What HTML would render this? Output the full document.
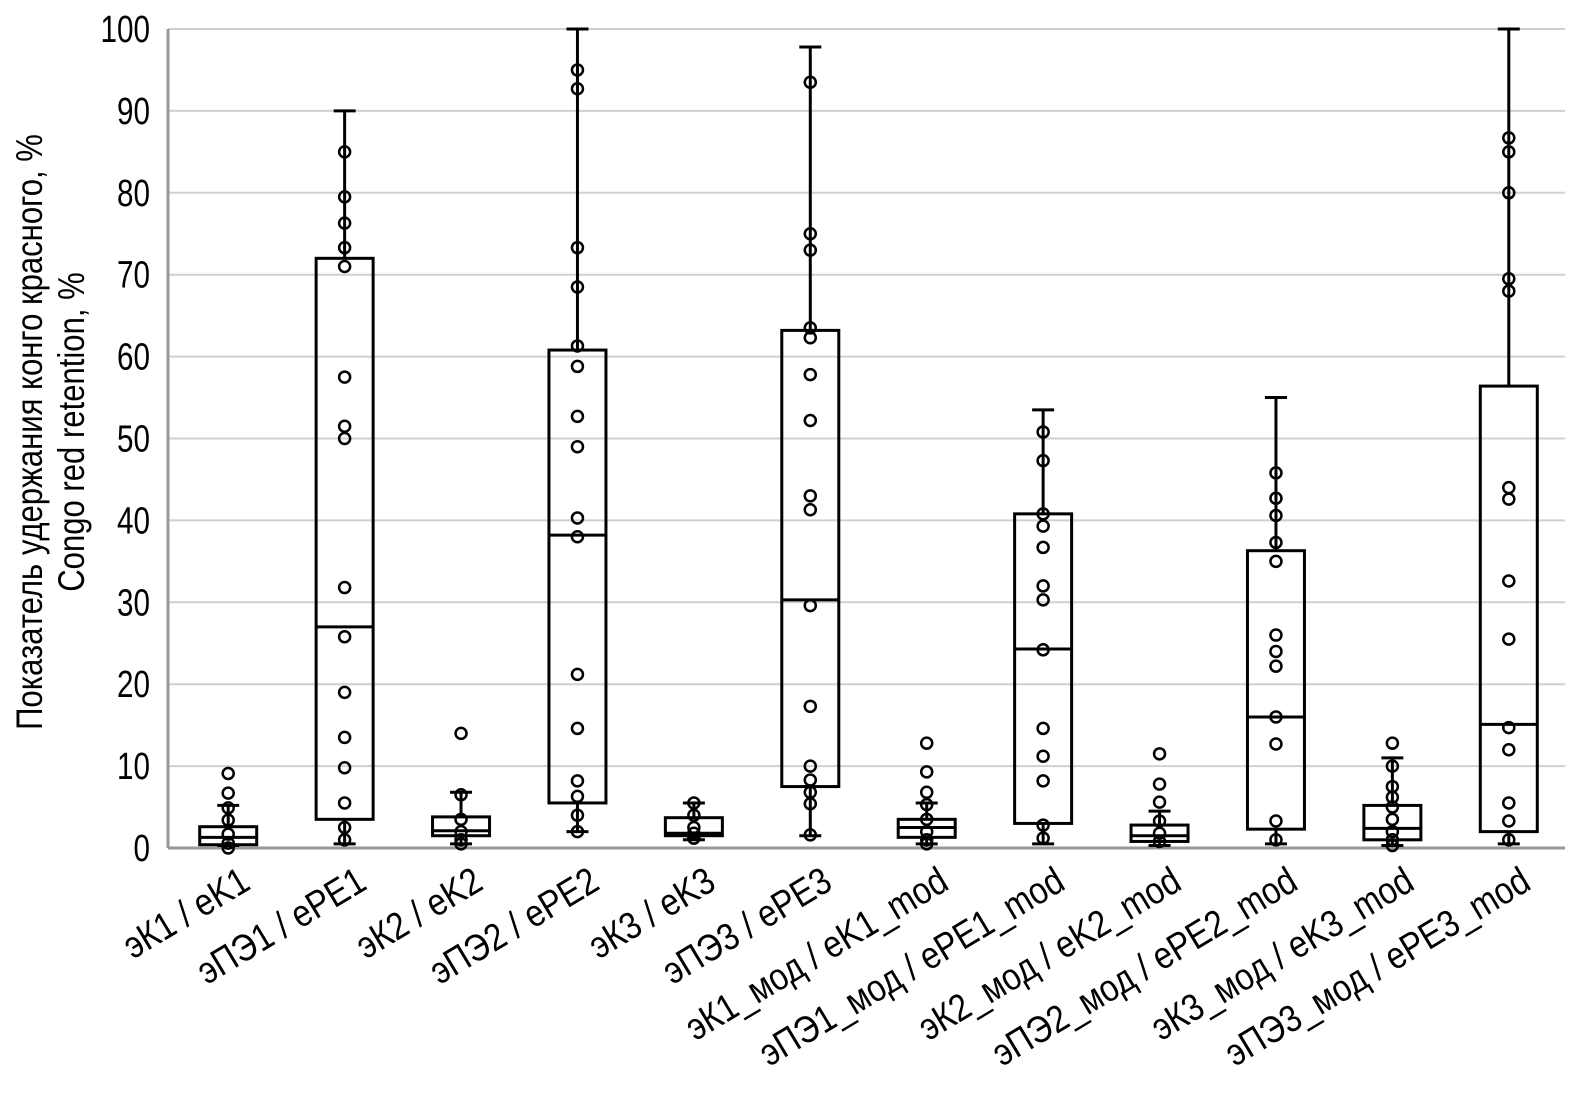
<!DOCTYPE html>
<html><head><meta charset="utf-8"><style>
body{margin:0;background:#fff}
svg text{font-family:"Liberation Sans","DejaVu Sans Condensed",sans-serif;fill:#000}
</style></head><body>
<svg id="chart" width="1583" height="1091" xmlns="http://www.w3.org/2000/svg"></svg>
<script>
const categories=["эК1 / eK1","эПЭ1 / ePE1","эК2 / eK2","эПЭ2 / ePE2","эК3 / eK3","эПЭ3 / ePE3","эК1_мод / eK1_mod","эПЭ1_мод / ePE1_mod","эК2_мод / eK2_mod","эПЭ2_мод / ePE2_mod","эК3_мод / eK3_mod","эПЭ3_мод / ePE3_mod"];
const whiskerLow=[0.3,0.5,0.5,2,1,1.5,0.5,0.5,0.3,0.5,0.3,0.5];
const q1=[0.4,3.5,1.5,5.5,1.5,7.5,1.3,3,0.8,2.3,1,2];
const median=[1.3,27,2.1,38.2,1.8,30.3,2.5,24.3,1.5,16,2.4,15.1];
const q3=[2.6,72,3.8,60.8,3.7,63.2,3.5,40.8,2.8,36.3,5.2,56.4];
const whiskerHigh=[5.2,90,6.8,100,5.5,97.8,5.5,53.5,4.5,55,11,100];
const points=[
[9.1,6.7,4.9,3.4,1.7,0.6,0],
[85,79.5,76.3,73.3,71,57.5,51.5,50,31.8,25.8,19,13.5,9.8,5.5,2.5,1],
[14,6.5,3.5,2,1,0.5],
[95,92.7,73.3,68.5,61.3,58.8,52.7,49,40.3,38,21.2,14.6,8.2,6.3,4,2],
[5.5,4,2.5,1.8,1.2],
[93.5,75,73,63.5,62.3,57.8,52.2,43,41.3,29.6,17.3,10,8.3,6.8,5.4,1.6],
[12.8,9.3,6.8,5.3,3.5,2,1,0.5],
[50.8,47.3,40.8,39.3,36.7,32,30.3,24.2,14.6,11.2,8.2,2.8,1.2],
[11.5,7.8,5.6,3.3,1.8,0.8],
[45.8,42.7,40.6,37.3,35,26,24,22.2,16,12.7,3.3,1],
[12.8,10,7.5,6.2,5,3.5,2,1,0.3],
[86.7,85,80,69.5,68,44,42.6,32.6,25.5,14.7,12,5.5,3.3,1]];
const yTicks=[0,10,20,30,40,50,60,70,80,90,100];

const svg=document.getElementById('chart');
const NS='http://www.w3.org/2000/svg';
const X0=168,X1=1565,Y0=848,Y1=29;
const y=v=>Y0-(v/100)*(Y0-Y1);
const band=(X1-X0)/categories.length;
const x=i=>X0+2+band*(i+0.5);
function mk(tag,attrs,parent){const e=document.createElementNS(NS,tag);for(const k in attrs)e.setAttribute(k,attrs[k]);(parent||svg).appendChild(e);return e;}

yTicks.forEach(t=>{
  const g=mk('line',{x1:X0,x2:X1,y1:y(t),y2:y(t),stroke:t===0?'#999':'#d0d0d0','stroke-width':t===0?3:2});
  
  
  const tx=mk('text',{transform:`translate(150,${y(t)+13}) scale(0.78,1)`,'text-anchor':'end','font-size':38});
  tx.textContent=t;
  
  
});
const ax=mk('line',{x1:X0,x2:X0,y1:Y1,y2:Y0,stroke:'#999','stroke-width':3});



categories.forEach((c,i)=>{
  const cx=x(i),bw=57,cw=22;
  const g=mk('g',{fill:'none',stroke:'#000','stroke-width':3});
  
  
  mk('line',{x1:cx,x2:cx,y1:y(whiskerHigh[i]),y2:y(q3[i])},g);
  mk('line',{x1:cx,x2:cx,y1:y(q1[i]),y2:y(whiskerLow[i])},g);
  mk('line',{x1:cx-cw/2,x2:cx+cw/2,y1:y(whiskerHigh[i]),y2:y(whiskerHigh[i])},g);
  mk('line',{x1:cx-cw/2,x2:cx+cw/2,y1:y(whiskerLow[i]),y2:y(whiskerLow[i])},g);
  mk('rect',{x:cx-bw/2,y:y(q3[i]),width:bw,height:y(q1[i])-y(q3[i])},g);
  mk('line',{x1:cx-bw/2,x2:cx+bw/2,y1:y(median[i]),y2:y(median[i])},g);
  points[i].forEach(p=>{mk('circle',{cx:cx,cy:y(p),r:5.5,'stroke-width':2.5},g);});
  const t=mk('text',{transform:`translate(${cx+24},${888}) rotate(-31) scale(0.86,1)`,'text-anchor':'end','font-size':38});
  t.textContent=c;
  
  
});
const t1=mk('text',{transform:'translate(42,432) rotate(-90) scale(0.84,1)','text-anchor':'middle','font-size':37});
t1.textContent='Показатель удержания конго красного, %';


const t2=mk('text',{transform:'translate(84,432) rotate(-90) scale(0.84,1)','text-anchor':'middle','font-size':37});
t2.textContent='Congo red retention, %';


</script>
</body></html>
